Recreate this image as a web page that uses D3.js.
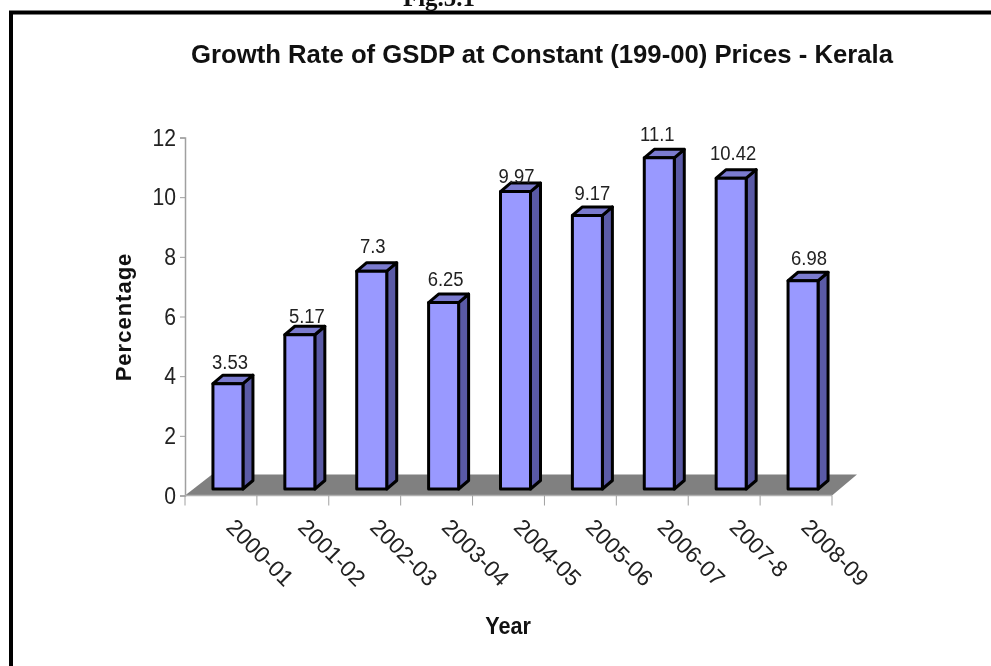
<!DOCTYPE html>
<html><head><meta charset="utf-8">
<script src="https://cdn.jsdelivr.net/npm/d3@7"></script>
<style>html,body{margin:0;padding:0;background:#fff}svg{display:block;filter:blur(0.4px)}text{font-family:"Liberation Sans",Arial,sans-serif}</style>
</head><body><svg id="c" width="991" height="666"></svg>
<script>
const categories=["2000-01","2001-02","2002-03","2003-04","2004-05","2005-06","2006-07","2007-8","2008-09"];
const values=[3.53,5.17,7.3,6.25,9.97,9.17,11.1,10.42,6.98];
const valueLabels=["3.53","5.17","7.3","6.25","9.97","9.17","11.1","10.42","6.98"];
const yTicks=[0,2,4,6,8,10,12];
const chartTitle="Growth Rate of GSDP at Constant (199-00) Prices - Kerala";
const pageCaption="Fig.5.1";
// hand placement of the value labels, as in the reference
const labelNudgeX=[2,7,1,2,1,5,-2,2,6];
const labelLift=[6,3,10,8,0,7,8,10,7];
const svg=d3.select("#c");
const x=d3.scaleBand().domain(categories).range([185,832]).paddingInner(0).paddingOuter(0);
const y=d3.scaleLinear().domain([0,12]).range([495.5,137.5]);
const dx=10,dy=-8.5,baseShift=-6.5,barShift=7,barW=30,narrow=0.9;
const ink="#222";
svg.append("text").attr("x",439).attr("y",5.5).attr("text-anchor","middle").attr("font-size",25).attr("font-weight","bold").style("font-family","'Liberation Serif',serif").attr("fill","#111").text(pageCaption);
svg.append("path").attr("d","M11,666V12.5H991").attr("fill","none").attr("stroke","#000").attr("stroke-width",4);
svg.append("text").attr("x",542).attr("y",63).attr("text-anchor","middle").attr("font-size",25.5).attr("font-weight","bold").attr("fill","#111").attr("textLength",702).attr("lengthAdjust","spacingAndGlyphs").text(chartTitle);
const y0=y(0),xL=x.range()[0],xR=x.range()[1];
svg.append("path").attr("d",`M${xL},${y0}L${xR},${y0}L${xR+25},${y0-21}L${xL+27},${y0-21}Z`).attr("fill","#808080");
const yG=svg.append("g").attr("transform",`translate(${xL},0)`).call(d3.axisLeft(y).tickValues(yTicks).tickSize(5).tickPadding(5));
yG.select(".domain").attr("stroke","#a0a0a0").attr("stroke-width",1.5);
yG.selectAll("line").attr("stroke","#a0a0a0");
yG.selectAll("text").attr("font-size",23.5).attr("fill",ink).attr("transform",`scale(${narrow},1)`).style("font-family","'Liberation Sans',sans-serif");
const xG=svg.append("g").attr("transform",`translate(0,${y0})`);
xG.append("line").attr("x1",xL).attr("x2",xR).attr("stroke","#b0b0b0").attr("stroke-width",1.5);
const edges=[...categories.map(c=>x(c)),xR];
xG.selectAll("line.t").data(edges).join("line").attr("class","t").attr("x1",d=>d).attr("x2",d=>d).attr("y1",0).attr("y2",10).attr("stroke","#a0a0a0");
xG.selectAll("text").data(categories).join("text").attr("font-size",22.8).attr("fill",ink)
 .attr("transform",d=>`translate(${x(d)+x.bandwidth()/2+4},33) rotate(45)`).text(d=>d);
const bars=svg.append("g").selectAll("g").data(categories).join("g");
const st=s=>s.attr("stroke","#000").attr("stroke-width",3).attr("stroke-linejoin","round");
bars.each(function(c,i){
 const g=d3.select(this),v=values[i];
 const l=x(c)+x.bandwidth()/2+barShift-barW/2,r=l+barW,b=y(0)+baseShift,t=y(v)+baseShift;
 st(g.append("path").attr("d",`M${r},${t}L${r+dx},${t+dy}V${b+dy}L${r},${b}Z`).attr("fill","#5a5aa6"));
 st(g.append("path").attr("d",`M${l},${t}L${l+dx},${t+dy}H${r+dx}L${r},${t}Z`).attr("fill","#7b7bcf"));
 st(g.append("rect").attr("x",l).attr("y",t).attr("width",barW).attr("height",b-t).attr("fill","#9999ff"));
});
// value labels go above all bars
svg.append("g").selectAll("text").data(categories).join("text").attr("text-anchor","middle").attr("font-size",20.5).attr("fill",ink)
 .attr("transform",(c,i)=>`translate(${x(c)+x.bandwidth()/2+barShift+labelNudgeX[i]},${y(values[i])+baseShift+dy-labelLift[i]}) scale(${narrow},1)`)
 .text((c,i)=>valueLabels[i]);
svg.append("text").attr("transform","translate(131,317) rotate(-90)").attr("text-anchor","middle").attr("font-size",22).attr("font-weight","bold").attr("letter-spacing",1).attr("fill","#111").text("Percentage");
svg.append("text").attr("transform",`translate(508,634) scale(${narrow},1)`).attr("text-anchor","middle").attr("font-size",24).attr("font-weight","bold").attr("fill","#111").text("Year");
</script></body></html>
